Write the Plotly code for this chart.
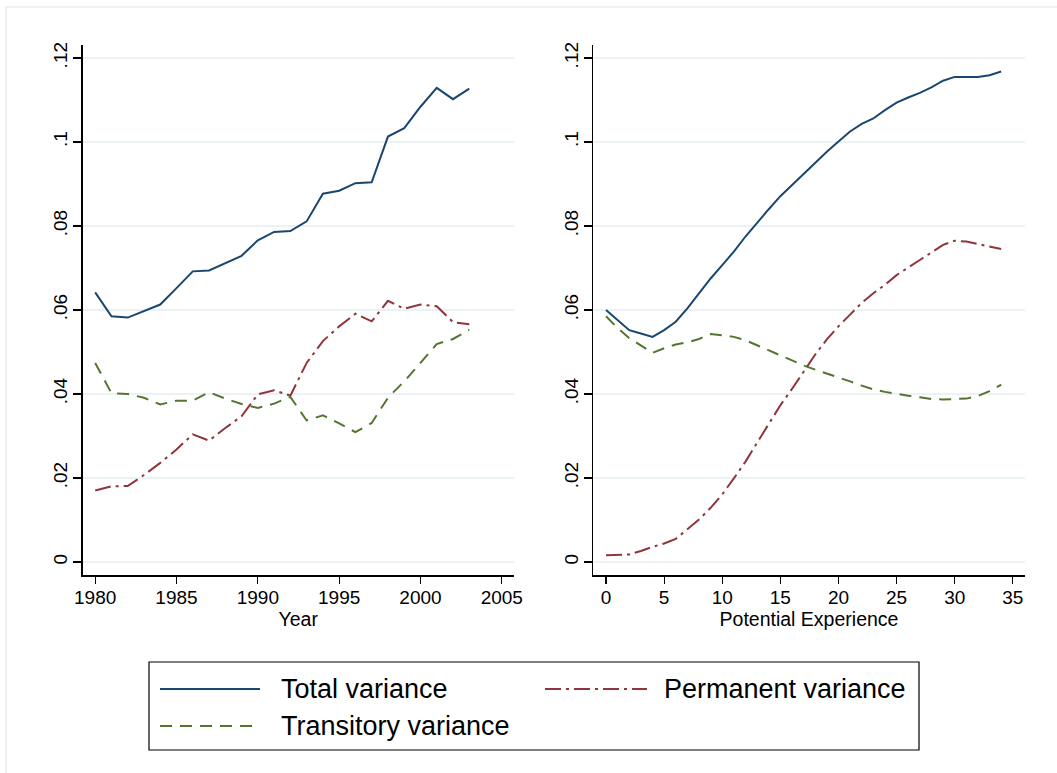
import plotly.graph_objects as go

W, H = 1057, 773

# ---- Data: left panel (by year) ----
years = list(range(1980, 2004))
total_year = [0.0642, 0.0585, 0.0582, 0.0598, 0.0613, 0.0652, 0.0692, 0.0694,
              0.0711, 0.0729, 0.0766, 0.0786, 0.0788, 0.0811, 0.0877, 0.0884,
              0.0902, 0.0904, 0.1013, 0.1033, 0.1084, 0.1129, 0.1102, 0.1127]
perm_year = [0.0170, 0.0180, 0.0181, 0.0207, 0.0236, 0.0268, 0.0304, 0.0289,
             0.0319, 0.0347, 0.0399, 0.0409, 0.0396, 0.0474, 0.0526, 0.0561,
             0.0591, 0.0573, 0.0622, 0.0603, 0.0613, 0.0609, 0.0571, 0.0566]
trans_year = [0.0474, 0.0402, 0.0400, 0.0391, 0.0375, 0.0384, 0.0384, 0.0404,
              0.0389, 0.0376, 0.0367, 0.0377, 0.0393, 0.0337, 0.0349, 0.0330,
              0.0309, 0.0331, 0.0391, 0.0430, 0.0474, 0.0519, 0.0531, 0.0553]

# ---- Data: right panel (by potential experience) ----
exper = list(range(0, 35))
total_exp = [0.0600, 0.0575, 0.0552, 0.0544, 0.0536, 0.0552, 0.0572, 0.0604,
             0.0640, 0.0675, 0.0707, 0.0739, 0.0775, 0.0808, 0.0840, 0.0871,
             0.0898, 0.0925, 0.0951, 0.0977, 0.1001, 0.1025, 0.1043, 0.1056,
             0.1076, 0.1094, 0.1106, 0.1117, 0.1130, 0.1146, 0.1155, 0.1155,
             0.1155, 0.1159, 0.1168]
perm_exp = [0.0016, 0.0017, 0.0018, 0.0026, 0.0036, 0.0044, 0.0055, 0.0078,
            0.0101, 0.0129, 0.0161, 0.0199, 0.0239, 0.0284, 0.0330, 0.0373,
            0.0412, 0.0454, 0.0494, 0.0530, 0.0561, 0.0589, 0.0617, 0.0640,
            0.0660, 0.0683, 0.0702, 0.0719, 0.0737, 0.0755, 0.0765, 0.0763,
            0.0757, 0.0751, 0.0745]
trans_exp = [0.0585, 0.0557, 0.0533, 0.0515, 0.0498, 0.0509, 0.0518, 0.0523,
             0.0531, 0.0543, 0.0539, 0.0536, 0.0528, 0.0516, 0.0504, 0.0493,
             0.0481, 0.0468, 0.0458, 0.0449, 0.0440, 0.0430, 0.0420, 0.0411,
             0.0405, 0.0400, 0.0396, 0.0392, 0.0388, 0.0387, 0.0388, 0.0389,
             0.0395, 0.0407, 0.0422]

y_ticks = [0, 0.02, 0.04, 0.06, 0.08, 0.10, 0.12]
y_tick_labels = ["0", ".02", ".04", ".06", ".08", ".1", ".12"]
year_ticks = [1980, 1985, 1990, 1995, 2000, 2005]
exp_ticks = [0, 5, 10, 15, 20, 25, 30, 35]

series_names = ["Total variance", "Permanent variance", "Transitory variance"]
NAVY, MAROON, GREEN = "#1a476f", "#90353b", "#55752f"
DASH_PERM = "16px,5px,3px,5px"
DASH_TRANS = "12px,8px"

fig = go.Figure()

def add(x, y, name, color, dash, xa, ya):
    fig.add_trace(go.Scatter(x=x, y=y, name=name, mode="lines",
                             line=dict(color=color, width=2, dash=dash),
                             xaxis=xa, yaxis=ya, showlegend=False,
                             hoverinfo="skip"))

add(years, total_year, series_names[0], NAVY, "solid", "x", "y")
add(years, perm_year, series_names[1], MAROON, DASH_PERM, "x", "y")
add(years, trans_year, series_names[2], GREEN, DASH_TRANS, "x", "y")
add(exper, total_exp, series_names[0], NAVY, "solid", "x2", "y2")
add(exper, perm_exp, series_names[1], MAROON, DASH_PERM, "x2", "y2")
add(exper, trans_exp, series_names[2], GREEN, DASH_TRANS, "x2", "y2")

def px(xp):
    return xp / W

def py(yp):
    return 1 - yp / H

FONT = "Liberation Sans, Arial, sans-serif"
tickfont = dict(family=FONT, size=19, color="#000000")
titlefont = dict(family=FONT, size=19.5, color="#000000")

yd = [py(575), py(45)]
yaxis_common = dict(range=[-0.0031, 0.1231], tickvals=y_ticks, ticktext=y_tick_labels,
                    tickangle=-90, ticks="outside", ticklen=8, tickwidth=1.2,
                    tickcolor="#000000", showline=True, linecolor="#000000",
                    linewidth=1.5, showgrid=True, gridcolor="#eaf2f3", gridwidth=1.5,
                    zeroline=False, tickfont=tickfont, ticklabelstandoff=-2,
                    domain=yd, fixedrange=True, automargin=False)
xaxis_common = dict(ticks="outside", ticklen=7, tickwidth=1.2, tickcolor="#000000",
                    showline=True, linecolor="#000000", linewidth=1.5,
                    showgrid=False, zeroline=False, tickfont=tickfont,
                    ticklabelstandoff=-2, fixedrange=True, automargin=False)

fig.update_layout(
    width=W, height=H,
    margin=dict(l=0, r=0, t=0, b=0, pad=0, autoexpand=False),
    paper_bgcolor="#ffffff", plot_bgcolor="#ffffff",
    font=dict(family=FONT, color="#000000"),
    xaxis=dict(xaxis_common, domain=[px(82.5), px(514)], range=[1979.22, 2005.75],
               tickvals=year_ticks, anchor="y",
               title=dict(text="Year", font=titlefont, standoff=0)),
    yaxis=dict(yaxis_common, anchor="x"),
    xaxis2=dict(xaxis_common, domain=[px(593), px(1025)], range=[-1.12, 36.05],
                tickvals=exp_ticks, anchor="y2",
                title=dict(text="Potential Experience", font=titlefont, standoff=0)),
    yaxis2=dict(yaxis_common, anchor="x2"),
    showlegend=False,
    hovermode=False,
)

# outer graph-region frame (only top/left visible in the reference)
shapes = [
    dict(type="line", xref="paper", yref="paper", x0=px(6), x1=1.0, y0=py(7), y1=py(7),
         line=dict(color="#e6eeee", width=1.5)),
    dict(type="line", xref="paper", yref="paper", x0=px(6), x1=px(6), y0=0, y1=py(7),
         line=dict(color="#e6eeee", width=1.5)),
    # legend box
    dict(type="rect", xref="paper", yref="paper", x0=px(149), x1=px(919),
         y0=py(750), y1=py(662), line=dict(color="#000000", width=1.2),
         fillcolor="#ffffff"),
]

legend_items = [
    (series_names[0], NAVY, "solid", 160, 260, 279, 689),
    (series_names[1], MAROON, DASH_PERM, 545, 647, 662, 689),
    (series_names[2], GREEN, DASH_TRANS, 160, 260, 279, 726),
]
annotations = []
for name, color, dash, lx0, lx1, tx, ly in legend_items:
    shapes.append(dict(type="line", xref="paper", yref="paper",
                       x0=px(lx0), x1=px(lx1), y0=py(ly), y1=py(ly),
                       line=dict(color=color, width=2, dash=dash)))
    annotations.append(dict(text=name, xref="paper", yref="paper", x=px(tx), y=py(ly),
                            xanchor="left", yanchor="middle", showarrow=False,
                            font=dict(family=FONT, size=27, color="#000000")))

fig.update_layout(shapes=shapes, annotations=annotations)

fig.write_html("out.html",
               config={"displayModeBar": False, "staticPlot": True},
               post_script="document.body.style.margin='0';document.body.style.overflow='hidden';")
